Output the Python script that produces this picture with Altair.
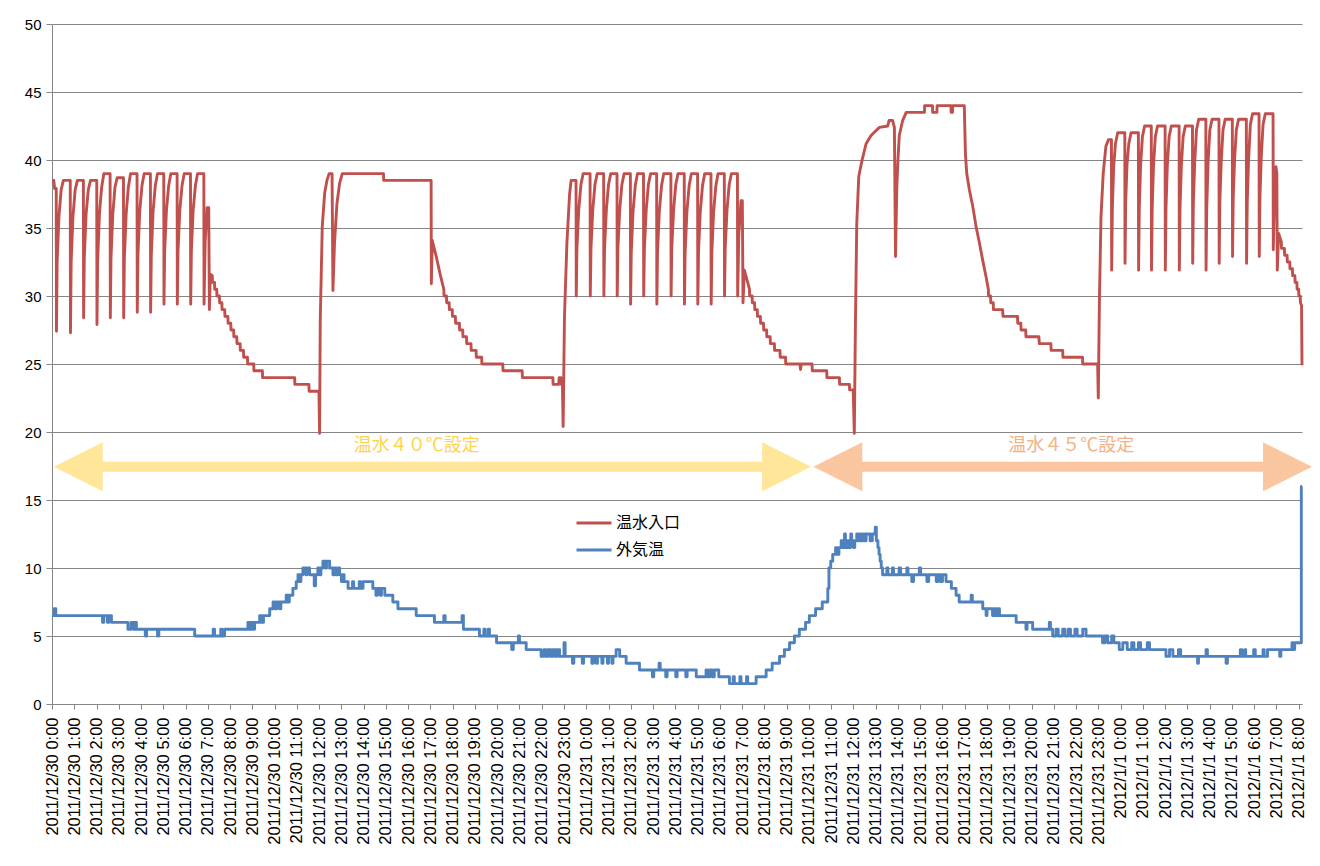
import altair as alt
import pandas as pd

# ---------------- axis labels ----------------
x_tick_labels = (
    [f"2011/12/30 {h}:00" for h in range(24)]
    + [f"2011/12/31 {h}:00" for h in range(24)]
    + [f"2012/1/1 {h}:00" for h in range(9)]
)
x_tick_values = list(range(len(x_tick_labels)))
y_tick_values = [0, 5, 10, 15, 20, 25, 30, 35, 40, 45, 50]

series_names = ["温水入口", "外気温"]
series_colors = ["#C0504D", "#4F81BD"]

# ---------------- 温水入口 (hours since 2011/12/30 0:00, degC) ----------------
red_points = [
    (0.00, 38.5), (0.08, 38.5), (0.12, 37.9), (0.19, 37.9),
    (0.20, 27.4), (0.23, 32.5), (0.31, 35.8), (0.41, 37.8), (0.51, 38.5), (0.82, 38.5),
    (0.83, 27.3), (0.86, 32.5), (0.94, 35.8), (1.04, 37.8), (1.14, 38.5), (1.41, 38.5),
    (1.42, 28.4), (1.45, 32.8), (1.53, 36.0), (1.63, 37.8), (1.73, 38.5), (2.01, 38.5),
    (2.02, 27.9), (2.05, 32.5), (2.13, 36.0), (2.23, 38.0), (2.33, 39.0), (2.61, 39.0),
    (2.62, 28.4), (2.65, 32.8), (2.73, 36.0), (2.83, 38.0), (2.93, 38.7), (3.21, 38.7),
    (3.22, 28.4), (3.25, 32.8), (3.33, 36.0), (3.43, 38.0), (3.53, 39.0), (3.82, 39.0),
    (3.83, 28.8), (3.86, 33.0), (3.94, 36.2), (4.04, 38.1), (4.14, 39.0), (4.42, 39.0),
    (4.43, 28.8), (4.46, 33.0), (4.54, 36.2), (4.64, 38.1), (4.74, 39.0), (5.02, 39.0),
    (5.03, 29.4), (5.06, 33.3), (5.14, 36.3), (5.24, 38.1), (5.34, 39.0), (5.62, 39.0),
    (5.63, 29.4), (5.66, 33.3), (5.74, 36.3), (5.84, 38.1), (5.94, 39.0), (6.22, 39.0),
    (6.23, 29.4), (6.26, 33.3), (6.34, 36.3), (6.44, 38.1), (6.54, 39.0), (6.82, 39.0),
    (6.83, 29.4), (6.88, 34.0), (6.97, 36.5), (7.04, 36.5), (7.07, 29.0), (7.11, 31.6),
    (7.20, 31.5), (7.21, 31.0), (7.30, 31.0), (7.31, 30.5), (7.40, 30.5), (7.41, 30.0),
    (7.52, 30.0), (7.53, 29.5), (7.63, 29.5), (7.64, 29.0), (7.76, 29.0), (7.77, 28.5),
    (7.90, 28.5), (7.91, 28.0), (8.03, 28.0), (8.04, 27.5), (8.16, 27.5), (8.17, 27.0),
    (8.30, 27.0), (8.31, 26.5), (8.45, 26.5), (8.46, 26.0), (8.60, 26.0), (8.61, 25.5),
    (8.78, 25.5), (8.79, 25.0), (9.06, 25.0), (9.07, 24.5), (9.45, 24.5),
    (9.46, 24.0), (10.90, 24.0), (10.91, 23.5), (11.54, 23.5), (11.55, 23.0), (11.99, 23.0),
    (12.02, 19.9), (12.05, 28.2), (12.14, 35.1), (12.25, 37.6), (12.35, 38.5), (12.45, 39.0),
    (12.58, 39.0), (12.62, 30.4), (12.69, 33.9), (12.80, 36.8), (12.92, 38.3), (13.04, 39.0),
    (14.89, 39.0), (14.90, 38.5), (17.03, 38.5), (17.04, 30.9), (17.08, 34.1), (17.26, 32.9),
    (17.45, 31.5), (17.60, 30.5), (17.61, 30.0), (17.72, 30.0), (17.73, 29.5), (17.84, 29.5),
    (17.85, 29.0), (17.98, 29.0), (17.99, 28.5), (18.12, 28.5), (18.13, 28.0), (18.30, 28.0),
    (18.31, 27.5), (18.45, 27.5), (18.46, 27.0), (18.62, 27.0), (18.63, 26.5), (18.82, 26.5),
    (18.83, 26.0), (19.05, 26.0), (19.06, 25.5), (19.30, 25.5), (19.31, 25.0),
    (20.25, 25.0), (20.26, 24.5), (21.12, 24.5), (21.13, 24.0),
    (22.50, 24.0), (22.51, 23.5), (22.76, 23.5), (22.78, 24.0), (22.86, 24.0), (22.88, 23.5),
    (22.93, 23.5), (22.96, 20.4), (23.02, 28.5), (23.13, 33.9), (23.25, 37.5), (23.32, 38.5),
    (23.54, 38.5),
    (23.55, 30.0), (23.58, 33.5), (23.66, 36.3), (23.76, 38.2), (23.86, 39.0), (24.17, 39.0),
    (24.18, 30.0), (24.21, 33.5), (24.29, 36.3), (24.39, 38.2), (24.49, 39.0), (24.78, 39.0),
    (24.79, 30.0), (24.82, 33.5), (24.90, 36.3), (25.00, 38.2), (25.10, 39.0), (25.38, 39.0),
    (25.39, 30.0), (25.42, 33.5), (25.50, 36.3), (25.60, 38.2), (25.70, 39.0), (25.98, 39.0),
    (25.99, 29.4), (26.02, 33.2), (26.10, 36.2), (26.20, 38.1), (26.30, 39.0), (26.57, 39.0),
    (26.58, 30.0), (26.61, 33.5), (26.69, 36.3), (26.79, 38.2), (26.89, 39.0), (27.16, 39.0),
    (27.17, 29.4), (27.20, 33.2), (27.28, 36.2), (27.38, 38.1), (27.48, 39.0), (27.80, 39.0),
    (27.81, 30.0), (27.84, 33.5), (27.92, 36.3), (28.02, 38.2), (28.12, 39.0), (28.40, 39.0),
    (28.41, 29.4), (28.44, 33.2), (28.52, 36.2), (28.62, 38.1), (28.72, 39.0), (29.00, 39.0),
    (29.01, 29.4), (29.04, 33.2), (29.12, 36.2), (29.22, 38.1), (29.32, 39.0), (29.60, 39.0),
    (29.61, 29.4), (29.64, 33.2), (29.72, 36.2), (29.82, 38.1), (29.92, 39.0), (30.20, 39.0),
    (30.21, 30.0), (30.24, 33.5), (30.32, 36.3), (30.42, 38.2), (30.52, 39.0), (30.79, 39.0),
    (30.80, 30.0), (30.85, 34.5), (30.95, 37.0), (31.01, 37.0), (31.04, 29.5), (31.10, 31.9),
    (31.25, 31.0), (31.33, 30.5), (31.34, 30.0), (31.45, 30.0), (31.46, 29.5), (31.56, 29.5),
    (31.57, 29.0), (31.68, 29.0), (31.69, 28.5), (31.82, 28.5), (31.83, 28.0), (31.96, 28.0),
    (31.97, 27.5), (32.10, 27.5), (32.11, 27.0), (32.26, 27.0), (32.27, 26.5), (32.45, 26.5),
    (32.46, 26.0), (32.70, 26.0), (32.71, 25.5), (32.95, 25.5), (32.96, 25.0),
    (33.60, 25.0), (33.62, 24.6), (33.66, 25.0), (34.14, 25.0), (34.15, 24.5),
    (34.80, 24.5), (34.81, 24.0), (35.37, 24.0), (35.38, 23.5), (35.82, 23.5), (35.83, 23.1),
    (35.99, 23.1), (36.04, 19.9), (36.09, 28.0), (36.15, 35.3), (36.24, 38.8), (36.39, 40.0),
    (36.57, 41.2), (36.79, 41.8), (37.17, 42.4), (37.54, 42.5), (37.60, 42.9), (37.76, 42.9),
    (37.84, 42.4), (37.89, 32.9), (37.95, 38.0), (38.00, 40.0), (38.06, 41.8), (38.21, 42.9),
    (38.37, 43.5), (39.19, 43.5), (39.20, 44.0), (39.55, 44.0), (39.56, 43.5), (39.75, 43.5),
    (39.76, 44.0), (40.38, 44.0), (40.39, 43.5), (40.45, 43.5), (40.46, 44.0), (40.98, 44.0),
    (41.03, 40.5), (41.09, 39.0), (41.21, 37.8), (41.36, 36.6), (41.51, 35.1), (41.66, 33.9),
    (41.81, 32.6), (41.96, 31.4), (42.06, 30.5), (42.07, 30.0), (42.16, 30.0), (42.17, 29.5),
    (42.28, 29.5), (42.29, 29.0), (42.70, 29.0),
    (42.72, 28.5), (43.37, 28.5), (43.38, 28.0), (43.52, 28.0), (43.53, 27.5), (43.74, 27.5),
    (43.75, 27.0), (44.33, 27.0), (44.35, 26.5), (44.87, 26.5), (44.88, 26.0), (45.40, 26.0),
    (45.41, 25.5), (46.29, 25.5), (46.30, 25.0), (46.97, 25.0), (47.00, 22.5), (47.05, 29.7),
    (47.12, 35.8), (47.22, 39.0), (47.34, 41.0), (47.46, 41.5), (47.59, 41.5),
    (47.60, 31.9), (47.63, 36.4), (47.69, 39.5), (47.77, 41.2), (47.87, 42.0), (48.19, 42.0),
    (48.20, 32.4), (48.23, 36.9), (48.29, 39.7), (48.37, 41.2), (48.47, 42.0), (48.80, 42.0),
    (48.81, 31.9), (48.84, 36.4), (48.90, 39.6), (48.98, 41.7), (49.08, 42.5), (49.38, 42.5),
    (49.39, 31.9), (49.42, 36.4), (49.48, 39.6), (49.56, 41.7), (49.66, 42.5), (50.00, 42.5),
    (50.01, 31.9), (50.04, 36.4), (50.10, 39.6), (50.18, 41.7), (50.28, 42.5), (50.63, 42.5),
    (50.64, 31.9), (50.67, 36.4), (50.73, 39.6), (50.81, 41.7), (50.91, 42.5), (51.23, 42.5),
    (51.24, 32.4), (51.27, 36.9), (51.33, 39.8), (51.41, 42.2), (51.51, 43.0), (51.83, 43.0),
    (51.84, 31.9), (51.87, 36.4), (51.93, 39.8), (52.01, 42.2), (52.11, 43.0), (52.42, 43.0),
    (52.43, 32.4), (52.46, 36.9), (52.52, 39.8), (52.60, 42.2), (52.70, 43.0), (53.02, 43.0),
    (53.03, 32.9), (53.06, 37.2), (53.12, 40.0), (53.20, 42.2), (53.30, 43.0), (53.65, 43.0),
    (53.66, 32.4), (53.69, 36.9), (53.75, 40.0), (53.83, 42.6), (53.93, 43.4), (54.22, 43.4),
    (54.23, 32.9), (54.26, 37.2), (54.32, 40.2), (54.40, 42.6), (54.50, 43.4), (54.85, 43.4),
    (54.86, 33.4), (54.92, 37.5), (54.98, 39.5), (55.02, 39.0), (55.04, 31.9), (55.10, 34.6),
    (55.22, 34.0), (55.23, 33.5), (55.36, 33.5), (55.37, 33.0), (55.48, 33.0), (55.49, 32.5),
    (55.60, 32.5), (55.61, 32.0), (55.72, 32.0), (55.73, 31.5), (55.83, 31.5), (55.84, 31.0),
    (55.92, 31.0), (55.93, 30.5), (56.00, 30.5), (56.01, 30.0), (56.07, 30.0), (56.08, 29.5),
    (56.13, 29.3), (56.15, 24.9),
]

# ---------------- 外気温 (step values: value starting at hour) ----------------
blue_points = [
    (0.00, 6.5), (0.10, 7.0), (0.17, 6.5),
    (2.27, 6.0), (2.33, 6.5), (2.49, 6.0), (2.55, 6.5), (2.67, 6.0),
    (3.41, 5.5), (3.55, 6.0), (3.65, 5.5), (3.70, 6.0), (3.79, 5.5),
    (4.19, 5.0), (4.25, 5.5), (4.74, 5.0), (4.80, 5.5),
    (6.41, 5.0), (7.24, 5.5), (7.30, 5.0), (7.58, 5.5), (7.64, 5.0), (7.75, 5.5),
    (8.80, 6.0), (8.88, 5.5), (8.95, 6.0), (9.03, 5.5), (9.10, 6.0),
    (9.33, 6.5), (9.42, 6.0), (9.50, 6.5),
    (9.78, 7.0), (9.93, 7.5), (10.02, 7.0), (10.10, 7.5), (10.22, 7.0), (10.28, 7.5),
    (10.52, 8.0), (10.60, 7.5), (10.66, 8.0),
    (10.82, 8.5), (10.97, 9.0), (11.05, 9.5), (11.12, 9.0), (11.18, 9.5),
    (11.27, 10.0), (11.40, 9.5), (11.45, 10.0), (11.57, 9.5),
    (11.78, 8.7), (11.84, 9.5), (11.94, 10.0), (12.02, 9.5), (12.08, 10.0),
    (12.17, 10.5), (12.28, 10.0), (12.33, 10.5), (12.47, 10.0),
    (12.62, 9.5), (12.70, 10.0), (12.76, 9.5), (12.85, 10.0), (12.92, 9.5),
    (13.00, 9.0), (13.06, 9.5), (13.12, 9.0), (13.30, 8.5), (13.50, 9.0), (13.55, 8.5),
    (13.80, 9.0), (13.85, 8.5), (13.97, 9.0), (14.41, 8.5), (14.55, 8.0), (14.62, 8.5),
    (14.75, 8.0), (14.80, 8.5), (14.95, 8.0), (15.31, 7.5), (15.54, 7.0), (16.36, 6.5),
    (17.18, 6.0), (17.60, 6.5), (17.66, 6.0), (18.42, 6.5), (18.48, 5.5),
    (19.20, 5.0), (19.40, 5.5), (19.46, 5.0), (19.60, 5.5), (19.65, 5.0),
    (19.97, 4.5), (20.65, 4.0), (20.72, 4.5), (20.95, 5.0), (21.00, 4.5),
    (21.30, 4.0), (21.97, 3.5), (22.10, 4.0), (22.20, 3.5), (22.30, 4.0), (22.40, 3.5),
    (22.50, 4.0), (22.60, 3.5), (22.70, 4.0), (22.80, 3.5), (23.00, 4.5), (23.05, 3.5),
    (23.38, 3.0), (23.44, 3.5), (23.82, 3.0), (23.88, 3.5), (24.25, 3.0), (24.32, 3.5),
    (24.45, 3.0), (24.50, 3.5), (24.70, 3.0), (24.75, 3.5), (24.95, 3.0), (25.00, 3.5),
    (25.15, 3.0), (25.20, 3.5), (25.34, 4.0), (25.50, 3.5), (25.79, 3.0), (26.39, 2.5),
    (26.97, 2.0), (27.03, 2.5), (27.27, 3.0), (27.32, 2.5), (27.57, 2.0), (27.63, 2.5),
    (28.02, 2.0), (28.08, 2.5), (28.47, 2.0), (28.53, 2.5), (28.94, 2.0), (29.38, 2.5),
    (29.45, 2.0), (29.55, 2.5), (29.65, 2.0), (29.75, 2.5), (29.95, 2.0),
    (30.43, 1.5), (30.60, 2.0), (30.65, 1.5), (30.90, 2.0), (30.95, 1.5), (31.20, 2.0),
    (31.25, 1.5), (31.63, 2.0), (32.08, 2.5), (32.35, 3.0), (32.68, 3.5), (32.90, 4.0),
    (33.13, 4.5), (33.35, 5.0), (33.57, 5.5), (33.85, 6.0), (34.02, 6.5), (34.30, 7.0),
    (34.60, 7.5), (34.85, 8.5), (34.90, 10.0), (34.98, 10.5), (35.07, 11.0), (35.20, 11.5),
    (35.28, 11.0), (35.35, 11.5), (35.45, 12.0), (35.52, 11.5), (35.60, 12.5), (35.64, 11.5),
    (35.72, 12.0), (35.80, 11.5), (35.88, 12.5), (35.92, 12.0), (36.00, 11.5), (36.06, 12.0),
    (36.15, 12.5), (36.20, 12.0), (36.30, 12.5), (36.35, 12.0), (36.45, 12.5), (36.50, 12.0),
    (36.57, 12.5), (36.75, 12.0), (36.85, 12.5), (36.98, 13.0), (37.03, 12.0), (37.10, 11.5),
    (37.15, 11.0), (37.20, 10.5), (37.25, 10.0), (37.31, 9.5), (37.50, 10.0), (37.55, 9.5),
    (37.75, 10.0), (37.80, 9.5), (38.05, 10.0), (38.12, 9.5), (38.40, 10.0), (38.45, 9.5),
    (38.62, 9.0), (38.70, 9.5), (38.96, 10.0), (39.02, 9.5), (39.30, 9.0), (39.38, 9.5),
    (39.72, 9.0), (39.80, 9.5), (39.90, 9.0), (40.00, 9.5), (40.16, 9.0), (40.40, 8.5),
    (40.61, 8.0), (40.75, 7.5), (41.29, 8.0), (41.34, 7.5), (41.81, 7.0), (41.96, 6.5),
    (42.00, 7.0), (42.25, 6.5), (42.32, 7.0), (42.40, 6.5), (42.50, 7.0), (42.56, 6.5),
    (43.31, 6.0), (43.75, 5.5), (43.80, 6.0), (44.05, 5.5), (44.80, 6.0), (44.85, 5.5),
    (44.95, 5.0), (45.10, 5.5), (45.20, 5.0), (45.40, 5.5), (45.50, 5.0), (45.65, 5.5),
    (45.75, 5.0), (45.95, 5.5), (46.05, 5.0), (46.30, 5.5), (46.45, 5.0),
    (47.19, 4.5), (47.30, 5.0), (47.42, 4.5), (47.60, 5.0), (47.70, 4.5), (47.94, 4.0),
    (48.10, 4.5), (48.30, 4.0), (48.50, 4.5), (48.60, 4.0), (48.80, 4.5), (48.90, 4.0),
    (49.20, 4.5), (49.30, 4.0), (50.04, 3.5), (50.20, 4.0), (50.35, 3.5), (50.60, 4.0),
    (50.70, 3.5), (51.46, 3.0), (51.50, 3.5), (51.84, 4.0), (51.90, 3.5), (52.74, 3.0),
    (52.80, 3.5), (53.38, 4.0), (53.45, 3.5), (53.58, 4.0), (53.62, 3.5), (53.98, 4.0),
    (54.05, 3.5), (54.40, 4.0), (54.45, 3.5), (54.60, 4.0), (55.15, 3.5), (55.20, 4.0),
    (55.70, 4.5), (55.75, 4.0), (55.82, 4.5), (56.12, 16.0), (56.15, 16.0),
]

# ---------------- annotations (data coordinates) ----------------
arrow_level = 17.45
yellow_arrow = {"tip_left": 0.08, "tip_right": 34.10, "head": 1.10}
orange_arrow = {"tip_left": 34.20, "tip_right": 56.60, "head": 1.10}
note_texts = ["温水４０℃設定", "温水４５℃設定"]
note_hours = [16.38, 45.79]
note_levels = [18.97, 19.0]
yellow_fill = "#FFE699"
orange_fill = "#F9C6A0"
yellow_text = "#FFD34D"
orange_text = "#F4B183"

# ---------------- frames ----------------
red_df = pd.DataFrame(red_points, columns=["hour", "temp"])
red_df["series"] = series_names[0]
blue_df = pd.DataFrame(blue_points, columns=["hour", "temp"])
blue_df["series"] = series_names[1]

label_expr = "[" + ",".join(f"'{t}'" for t in x_tick_labels) + "][datum.value]"

x_scale = alt.Scale(domain=[0, 56.15], nice=False, zero=False)
y_scale = alt.Scale(domain=[0, 50], nice=False)
color_scale = alt.Scale(domain=series_names, range=series_colors)

x_axis = alt.Axis(
    values=x_tick_values, labelExpr=label_expr, labelAngle=270, grid=False,
    domainColor="#868686", tickColor="#868686", tickSize=5, labelPadding=8,
    labelFont="Liberation Sans", labelFontSize=16.5, labelColor="#000000",
    labelOverlap=False, labelBound=False, labelFlush=False, title=None,
)
y_axis = alt.Axis(
    values=y_tick_values, grid=True, gridColor="#868686", domainColor="#868686",
    tickColor="#868686", tickSize=6, labelPadding=5, labelFont="Liberation Sans",
    labelFontSize=15, labelColor="#000000", title=None,
)


def X(field):
    return alt.X(field, scale=x_scale, axis=x_axis)


def Y(field):
    return alt.Y(field, scale=y_scale, axis=y_axis)


legend = alt.Legend(
    orient="none", legendX=523, legendY=480, direction="vertical", title=None,
    symbolType="stroke", symbolSize=1225, symbolStrokeWidth=3, padding=0,
    labelFont="Noto Sans CJK JP", labelFontSize=16, labelColor="#000000",
    labelOffset=3, rowPadding=0,
)

red_line = alt.Chart(red_df).mark_line(strokeWidth=2.9, strokeJoin="round").encode(
    x=X("hour:Q"), y=Y("temp:Q"),
    color=alt.Color("series:N", scale=color_scale, legend=legend),
    order=alt.Order("hour:Q"),
)
blue_line = alt.Chart(blue_df).mark_line(
    strokeWidth=2.9, strokeJoin="round", interpolate="step-after"
).encode(
    x=X("hour:Q"), y=Y("temp:Q"),
    color=alt.Color("series:N", scale=color_scale, legend=legend),
    order=alt.Order("hour:Q"),
)


def arrow_layers(spec, fill):
    shaft = pd.DataFrame({
        "x1": [spec["tip_left"] + spec["head"]],
        "x2": [spec["tip_right"] - spec["head"]],
        "y": [arrow_level],
    })
    heads_l = pd.DataFrame({"x": [spec["tip_left"] + spec["head"]], "y": [arrow_level]})
    heads_r = pd.DataFrame({"x": [spec["tip_right"] - spec["head"]], "y": [arrow_level]})
    s = alt.Chart(shaft).mark_rule(strokeWidth=10, color=fill).encode(
        x=X("x1:Q"), x2="x2:Q", y=Y("y:Q")
    )
    hl = alt.Chart(heads_l).mark_point(
        shape="M-1,0L1,-1L1,1Z", size=2401, filled=True, opacity=1, color=fill, strokeWidth=0
    ).encode(x=X("x:Q"), y=Y("y:Q"))
    hr = alt.Chart(heads_r).mark_point(
        shape="M1,0L-1,-1L-1,1Z", size=2401, filled=True, opacity=1, color=fill, strokeWidth=0
    ).encode(x=X("x:Q"), y=Y("y:Q"))
    return [s, hl, hr]


notes_df = pd.DataFrame({
    "x": note_hours, "y": note_levels, "text": note_texts,
    "c": [yellow_text, orange_text],
})
notes = alt.Chart(notes_df).mark_text(
    font="Noto Sans CJK JP", fontSize=18, baseline="middle", align="center"
).encode(
    x=X("x:Q"), y=Y("y:Q"),
    text="text:N", color=alt.Color("c:N", scale=None),
)

chart = alt.layer(
    *arrow_layers(yellow_arrow, yellow_fill),
    *arrow_layers(orange_arrow, orange_fill),
    blue_line, red_line, notes,
).properties(
    width=1250, height=680,
    autosize=alt.AutoSizeParams(type="none"),
    padding={"left": 52, "top": 24, "right": 18, "bottom": 162},
    background="white",
).configure_view(strokeWidth=0)

chart.save("out.html", embed_options={"renderer": "svg", "actions": False})
